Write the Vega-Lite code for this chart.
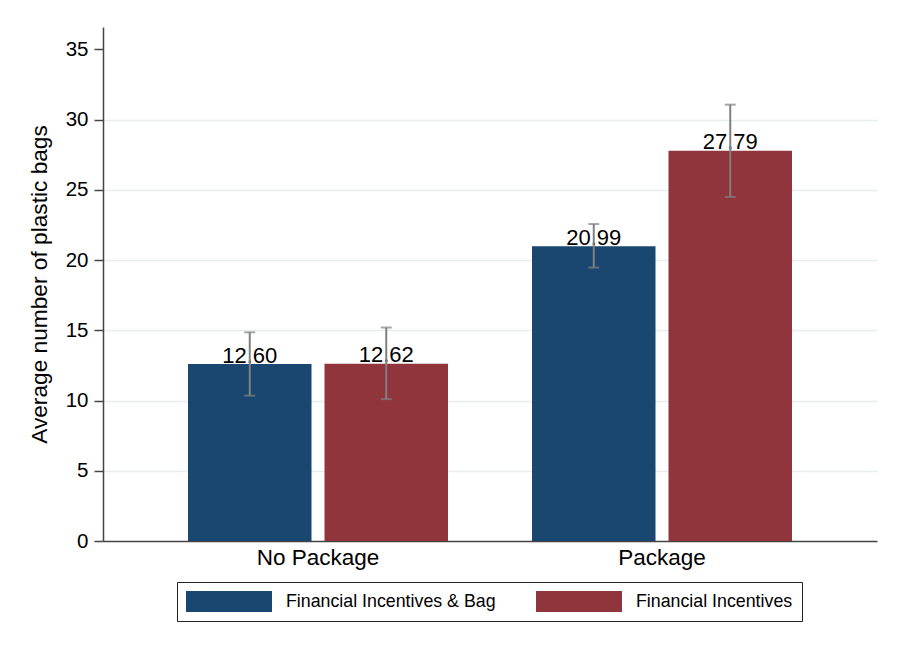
{
  "$schema": "https://vega.github.io/schema/vega-lite/v6.json",
  "width": 774,
  "height": 514,
  "autosize": "none",
  "padding": {"left": 103, "top": 27, "right": 23, "bottom": 115},
  "background": "white",
  "config": {
    "font": "Liberation Sans",
    "view": {"stroke": null},
    "axis": {"labelColor": "#000", "titleColor": "#000", "labelFont": "Liberation Sans", "titleFont": "Liberation Sans", "titleFontWeight": "normal"}
  },
  "data": {
    "values": [
      {"group": "No Package", "treatment": "Financial Incentives & Bag", "mean": 12.60, "lo": 10.35, "hi": 14.86, "label": "12.60"},
      {"group": "No Package", "treatment": "Financial Incentives", "mean": 12.62, "lo": 10.10, "hi": 15.20, "label": "12.62"},
      {"group": "Package", "treatment": "Financial Incentives & Bag", "mean": 20.99, "lo": 19.47, "hi": 22.57, "label": "20.99"},
      {"group": "Package", "treatment": "Financial Incentives", "mean": 27.79, "lo": 24.50, "hi": 31.07, "label": "27.79"}
    ]
  },
  "encoding": {
    "x": {
      "field": "group", "type": "nominal",
      "scale": {"paddingInner": 0.2442, "paddingOuter": 0.2471},
      "axis": {"title": null, "labelAngle": 0, "labelFontSize": 22.5, "labelPadding": 5, "ticks": false, "domainColor": "#444", "domainWidth": 1.5, "grid": false}
    },
    "xOffset": {
      "field": "treatment", "type": "nominal",
      "sort": ["Financial Incentives & Bag", "Financial Incentives"],
      "scale": {"paddingInner": 0.0952, "paddingOuter": 0}
    }
  },
  "layer": [
    {
      "mark": {"type": "bar"},
      "encoding": {
        "y": {
          "field": "mean", "type": "quantitative",
          "scale": {"domain": [0, 36.6], "nice": false, "zero": true},
          "axis": {
            "title": "Average number of plastic bags",
            "titleFontSize": 22.7, "titlePadding": 14,
            "values": [0, 5, 10, 15, 20, 25, 30, 35],
            "labelFontSize": 20.5, "labelPadding": 6,
            "tickSize": 9, "tickColor": "#444", "tickWidth": 1.5,
            "domainColor": "#444", "domainWidth": 1.5,
            "grid": true,
            "gridColor": {"condition": {"test": "datum.value == 35 || datum.value == 0", "value": "transparent"}, "value": "#e8eef0"},
            "gridWidth": 1.5
          }
        },
        "color": {
          "field": "treatment", "type": "nominal",
          "sort": ["Financial Incentives & Bag", "Financial Incentives"],
          "scale": {"domain": ["Financial Incentives & Bag", "Financial Incentives"], "range": ["#1a476f", "#90353b"]},
          "legend": {
            "title": null,
            "orient": "none",
            "legendX": 74,
            "legendY": 555,
            "direction": "horizontal",
            "columns": 2,
            "symbolType": "M-1,-0.244H1V0.244H-1Z",
            "symbolSize": 7396,
            "symbolStrokeWidth": 0,
            "symbolOpacity": 1,
            "clipHeight": 21,
            "labelFontSize": 17.8,
            "labelFont": "Liberation Sans",
            "labelColor": "#000",
            "labelLimit": 0,
            "labelOffset": 14,
            "columnPadding": 40,
            "padding": 9,
            "strokeColor": "#222",
            "fillColor": "white"
          }
        }
      }
    },
    {
      "mark": {"type": "text", "baseline": "alphabetic", "dy": -1.5, "fontSize": 22, "color": "#000", "font": "Liberation Sans"},
      "encoding": {
        "y": {"field": "mean", "type": "quantitative"},
        "text": {"field": "label"}
      }
    },
    {
      "mark": {"type": "rule", "color": "#808080", "strokeWidth": 2},
      "encoding": {
        "y": {"field": "lo", "type": "quantitative"},
        "y2": {"field": "hi"}
      }
    },
    {
      "mark": {"type": "tick", "color": "#808080", "thickness": 2, "size": 11},
      "encoding": {
        "y": {"field": "lo", "type": "quantitative"}
      }
    },
    {
      "mark": {"type": "tick", "color": "#808080", "thickness": 2, "size": 11},
      "encoding": {
        "y": {"field": "hi", "type": "quantitative"}
      }
    }
  ]
}
